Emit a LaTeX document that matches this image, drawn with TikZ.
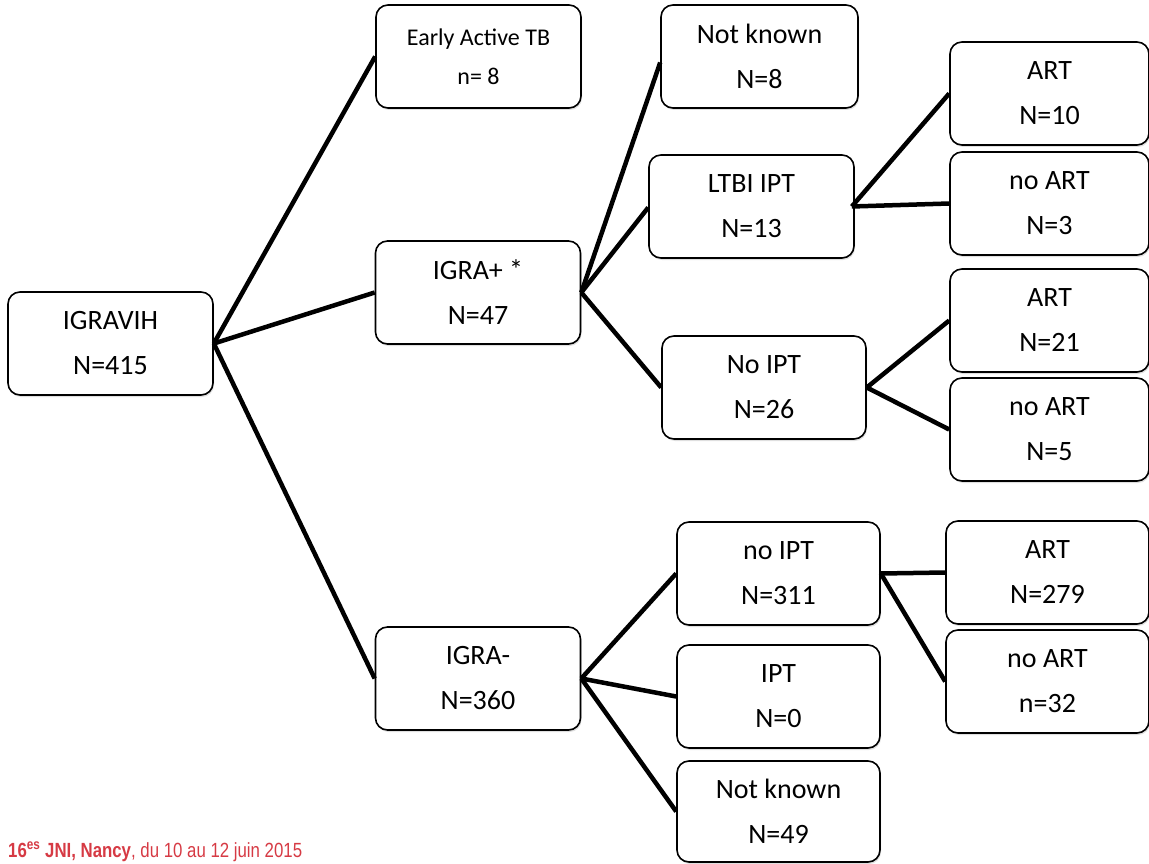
\documentclass[tikz,border=0pt]{standalone}
\usepackage{fontspec}
\setmainfont{Carlito}
\newfontfamily\footfont[FakeStretch=0.82]{Liberation Sans}
\usepackage{tikz}
\usetikzlibrary{shadows}
\definecolor{jnired}{RGB}{214,58,68}

\begin{document}
\begin{tikzpicture}
    [
    x=1pt, y=-1pt,
    box/.style = {draw, rectangle, line width=1.6pt, rounded corners=12pt, fill=white, minimum width=205pt, minimum height=103pt, align=center, font=\fontsize{28}{45}\selectfont, drop shadow={shadow xshift=1pt, shadow yshift=-2pt, opacity=0.25}},
    link/.style = {line width=4.5pt},
    ]
    \useasboundingbox (0,0) rectangle (1149,864);

% Nodes
    \node[box] (igravih) at (110.5,343.5) {IGRAVIH\\N=415};
    \node[box, font=\fontsize{24}{39}\selectfont] (early) at (478.5,56.5) {Early Active TB\\n= 8};
    \node[box] (igrapos) at (478,292.5) {IGRA+ *\\N=47};
    \node[box] (igraneg) at (478,678.5) {IGRA-\\N=360};
    \node[box, minimum width=197pt] (unknownA) at (759.5,56.5) {Not known\\N=8};
    \node[box] (ltbi) at (751.5,206.5) {LTBI IPT\\N=13};
    \node[box, minimum width=204pt] (noiptA) at (764,387.5) {No IPT\\N=26};
    \node[box, minimum width=199pt] (artA) at (1049.5,93.5) {ART\\N=10};
    \node[box, minimum width=199pt] (noartA) at (1049.5,203.5) {no ART\\N=3};
    \node[box, minimum width=199pt] (artB) at (1049.5,320.5) {ART\\N=21};
    \node[box, minimum width=199pt] (noartB) at (1049.5,429.5) {no ART\\N=5};
    \node[box, minimum width=203pt] (noiptB) at (778.5,573.5) {no IPT\\N=311};
    \node[box, minimum width=203pt] (ipt) at (778.5,696.5) {IPT\\N=0};
    \node[box, minimum width=203pt, minimum height=101pt] (unknownB) at (778.5,811.5) {Not known\\N=49};
    \node[box, minimum width=203pt] (artC) at (1047.5,572.5) {ART\\N=279};
    \node[box, minimum width=203pt] (noartC) at (1047.5,681.5) {no ART\\n=32};

% Links
    \draw[link] (igravih.east) -- (early.west);
    \draw[link] (igravih.east) -- (igrapos.west);
    \draw[link] (igravih.east) -- (igraneg.west);
    \draw[link] (igrapos.east) -- ([yshift=-6pt]unknownA.west);
    \draw[link] (igrapos.east) -- ([yshift=-1pt]ltbi.west);
    \draw[link] (igrapos.east) -- (noiptA.west);
    \draw[link] ([xshift=-3pt]ltbi.east) -- (artA.west);
    \draw[link] ([xshift=-3pt]ltbi.east) -- (noartA.west);
    \draw[link] (noiptA.east) -- (artB.west);
    \draw[link] (noiptA.east) -- (noartB.west);
    \draw[link] (igraneg.east) -- (noiptB.west);
    \draw[link] (igraneg.east) -- (ipt.west);
    \draw[link] (igraneg.east) -- (unknownB.west);
    \draw[link] (noiptB.east) -- (artC.west);
    \draw[link] (noiptB.east) -- (noartC.west);

% Footer
    \node[anchor=base west, inner sep=0pt, text=jnired, font=\footfont\fontsize{20.5}{22}\selectfont] (footer) at (8,857) {\textbf{16\textsuperscript{es} JNI,} \textbf{Nancy}, du 10 au 12 juin 2015};

\end{tikzpicture}
\end{document}
